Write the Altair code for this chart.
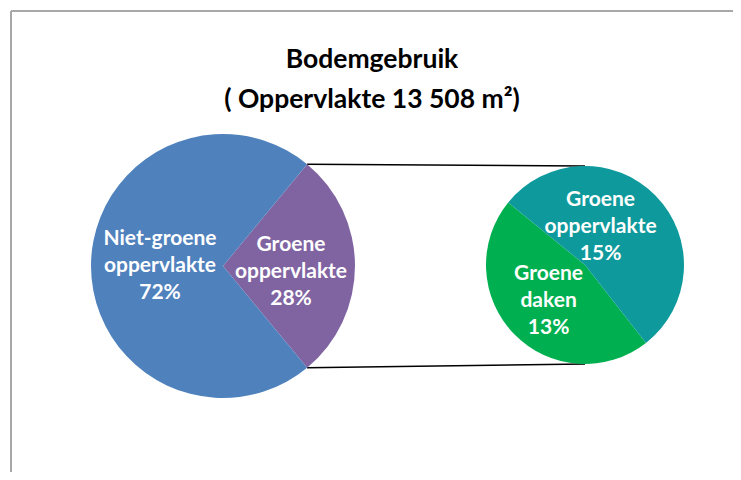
import math
import altair as alt
import pandas as pd

# ---- data -------------------------------------------------------------
hoofd_delen = ["Groene oppervlakte", "Niet-groene oppervlakte"]
hoofd_pct = [28, 72]
detail_delen = ["Groene daken", "Groene oppervlakte"]
detail_pct = [13, 15]
titel_regels = ["Bodemgebruik", "( Oppervlakte 13 508 m²)"]

kleur_sleutels = ["hoofd|Niet-groene oppervlakte", "hoofd|Groene oppervlakte",
                  "detail|Groene oppervlakte", "detail|Groene daken"]
kleuren = ["#4F81BD", "#8064A2", "#0E9A9C", "#00B050"]

rows = []
for i, (d, p) in enumerate(zip(hoofd_delen, hoofd_pct)):
    rows.append({"taart": "hoofd", "deel": d, "pct": p, "volgorde": i})
for i, (d, p) in enumerate(zip(detail_delen, detail_pct)):
    rows.append({"taart": "detail", "deel": d, "pct": p, "volgorde": i})
df = pd.DataFrame(rows)

# ---- layout (pixels inside the plot area) -----------------------------
W, H = 725, 464
C1 = (215, 258); R1 = 132
C2 = (577, 257); R2 = 99
# main pie: the small slice is centred on the right-hand side
start1 = math.pi / 2 - math.pi * hoofd_pct[0] / sum(hoofd_pct)
start2 = 2.478

FONT = "Lato"
LBL_SIZE = 21
LH = 27

base = alt.Chart(df)


def pie(naam, start, center, r):
    b = (base.transform_filter(alt.datum.taart == naam)
         .transform_joinaggregate(totaal="sum(pct)")
         .transform_window(cum="sum(pct)", sort=[alt.SortField("volgorde")], frame=[None, 0])
         .transform_calculate(
             a1=f"{start} + 2*PI*datum.cum/datum.totaal",
             a0=f"{start} + 2*PI*(datum.cum-datum.pct)/datum.totaal",
             mid="(datum.a0 + datum.a1)/2",
             sleutel="datum.taart + '|' + datum.deel",
             label="replace(datum.deel, ' ', '\\n') + '\\n' + datum.pct + '%'",
         ))
    arc = b.mark_arc(radius=r).encode(
        x=alt.value(center[0]), y=alt.value(center[1]),
        theta=alt.Theta("a0:Q", scale=None), theta2="a1:Q",
        color=alt.Color("sleutel:N", scale=alt.Scale(domain=kleur_sleutels, range=kleuren), legend=None),
    )
    return b, arc


def label(b, deel, center, radius, dx=0, dy=0):
    return b.transform_filter(alt.datum.deel == deel).mark_text(
        radius=radius, dx=dx, dy=dy - LH, font=FONT, fontSize=LBL_SIZE, fontWeight="bold",
        color="white", align="center", baseline="middle", lineBreak="\n", lineHeight=LH,
    ).encode(
        x=alt.value(center[0]), y=alt.value(center[1]),
        theta=alt.Theta("mid:Q", scale=None), text="label:N",
    )


b1, arc1 = pie("hoofd", start1, C1, R1)
b2, arc2 = pie("detail", start2, C2, R2)

lab1a = label(b1, "Niet-groene oppervlakte", C1, 63)
lab1b = label(b1, "Groene oppervlakte", C1, 68, dy=6)
lab2a = label(b2, "Groene daken", C2, 51)
lab2b = label(b2, "Groene oppervlakte", C2, 40, dx=-13, dy=-10)

# connector lines between the pies
p_top = (C1[0] + R1 * math.sin(start1), C1[1] - R1 * math.cos(start1))
p_bot = (C1[0] + R1 * math.sin(math.pi - start1), C1[1] - R1 * math.cos(math.pi - start1))
dummy = alt.Chart(pd.DataFrame({"a": [0]}))
conn_top = dummy.mark_rule(color="black", strokeWidth=1.5).encode(
    x=alt.value(p_top[0]), y=alt.value(p_top[1]), x2=alt.value(C2[0]), y2=alt.value(C2[1] - R2))
conn_bot = dummy.mark_rule(color="black", strokeWidth=1.5).encode(
    x=alt.value(p_bot[0]), y=alt.value(p_bot[1]), x2=alt.value(C2[0]), y2=alt.value(C2[1] + R2))

# frame (left and top edges visible)
frame_l = dummy.mark_rule(color="#A8A8A8", strokeWidth=2).encode(
    x=alt.value(3), y=alt.value(3), x2=alt.value(3), y2=alt.value(H))
frame_t = dummy.mark_rule(color="#A8A8A8", strokeWidth=2).encode(
    x=alt.value(3), y=alt.value(3), x2=alt.value(W), y2=alt.value(3))

titel_df = pd.DataFrame({"regel": titel_regels, "nr": list(range(len(titel_regels)))})
titel = alt.Chart(titel_df).mark_text(
    font=FONT, fontSize=26.5, fontWeight="bold", color="black", align="center", baseline="middle",
).encode(
    x=alt.value(364),
    y=alt.Y("nr:Q", scale=alt.Scale(domain=[0, 1], range=[52, 92]), axis=None),
    text="regel:N",
)

chart = alt.layer(
    frame_l, frame_t, conn_top, conn_bot, arc1, arc2, lab1a, lab1b, lab2a, lab2b, titel
).properties(
    width=W, height=H, padding=0, autosize=alt.AutoSizeParams(type="none"),
).configure_view(stroke=None)

chart.save("out.html", embed_options={"renderer": "svg", "actions": False})
